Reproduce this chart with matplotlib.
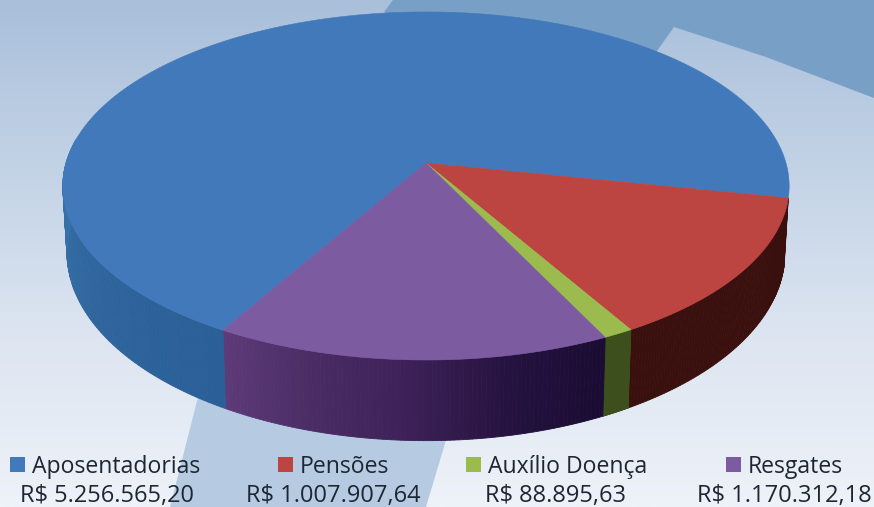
import numpy as np
import matplotlib
matplotlib.use("Agg")
import matplotlib.pyplot as plt
from matplotlib.colors import LinearSegmentedColormap

categorias = ["Aposentadorias", "Pensões", "Auxílio Doença", "Resgates"]
rotulos_valor = ["R$ 5.256.565,20", "R$ 1.007.907,64", "R$ 88.895,63", "R$ 1.170.312,18"]
valores = [5256565.20, 1007907.64, 88895.63, 1170312.18]
cores = ["#4279bb", "#bd4541", "#9bbb4e", "#7c5ba1"]


def topo(t):
    x, y = np.cos(t), np.sin(t)
    d = 1 + 0.132 * y
    return 426 + 360 * x / d, 163 - 171 * y / d


def base(t):
    x, y = np.cos(t), np.sin(t)
    d = 1 + 0.13 * y
    return 426 + 356 * x / d, 228 - 185 * y / d


def parede(ax, t0, t1, mapa):
    # faixa lateral em pedacos pequenos, cada um com a cor do gradiente
    ts = np.linspace(t0, t1, 90)
    for i in range(len(ts) - 1):
        tt = ts[i:i + 2]
        xa, ya = topo(tt)
        xb, yb = base(tt)
        c = mapa(i / (len(ts) - 2))
        ax.fill(np.r_[xa, xb[::-1]], np.r_[ya, yb[::-1]], color=c, lw=0.6, zorder=3)


fig = plt.figure(figsize=(8.74, 5.07), dpi=100)
ax = fig.add_axes([0, 0, 1, 1])

fundo = LinearSegmentedColormap.from_list("fundo", ["#a9bfda", "#c3d3e6", "#dde5f1", "#eef2f9"])
ax.imshow(np.linspace(0, 1, 256).reshape(-1, 1), cmap=fundo, extent=[0, 874, 507, 0], aspect="auto", zorder=0)

# faixas decorativas do fundo
ax.fill([393, 874, 874, 766, 674, 657, 500, 384], [0, 0, 98, 57, 27, 51, 60, 12], color="#789fc5", lw=0, zorder=1)
ax.fill([210, 473, 426, 170], [350, 350, 507, 507], color="#b6cbe1", lw=0, zorder=1)

fatias = np.radians(np.array(valores) / sum(valores) * 360)
inicio = np.radians(-11.5)
# ordem: pensoes, auxilio, resgates e depois aposentadorias, sentido horario
t_pen = inicio - fatias[1]
t_aux = t_pen - fatias[2]
t_res = t_aux - fatias[3]
t_apo = t_res - fatias[0]

parede(ax, inicio, t_pen, LinearSegmentedColormap.from_list("r", ["#3a100e", "#3a100e"]))
parede(ax, t_pen, t_aux, LinearSegmentedColormap.from_list("g", ["#3c4f1c", "#3c4f1c"]))
parede(ax, t_aux, t_res, LinearSegmentedColormap.from_list("p", ["#1a0c33", "#25123f", "#3c2056", "#4a2c64", "#5d3a78"]))
parede(ax, t_res, np.radians(-188), LinearSegmentedColormap.from_list("b", ["#2a5f97", "#30679f", "#3a75ab"]))

fim = {0: t_apo, 1: t_pen, 2: t_aux, 3: t_res}
comeco = {0: t_res, 1: inicio, 2: t_pen, 3: t_aux}
for i in range(4):
    ts = np.linspace(comeco[i], fim[i], 240)
    xs, ys = topo(ts)
    ax.fill(np.r_[426, xs], np.r_[163, ys], color=cores[i], lw=0.4, zorder=4)

# legenda
x_quadro = [10, 278, 466, 726]
x_nome = [32, 300, 488, 748]
x_valor = [20, 246, 485, 697]
for i in range(4):
    ax.fill([x_quadro[i], x_quadro[i] + 15, x_quadro[i] + 15, x_quadro[i]], [457, 457, 472, 472], color=cores[i], lw=0, zorder=5)
    ax.text(x_nome[i], 473, categorias[i], family="Open Sans", fontsize=16.6, color="#1d2733", va="baseline", ha="left", zorder=5)
    ax.text(x_valor[i], 502, rotulos_valor[i], family="Open Sans", fontsize=17, color="#1d2733", va="baseline", ha="left", zorder=5)

ax.set_xlim(0, 874)
ax.set_ylim(507, 0)
ax.axis("off")
fig.savefig("out.png", dpi=100)
